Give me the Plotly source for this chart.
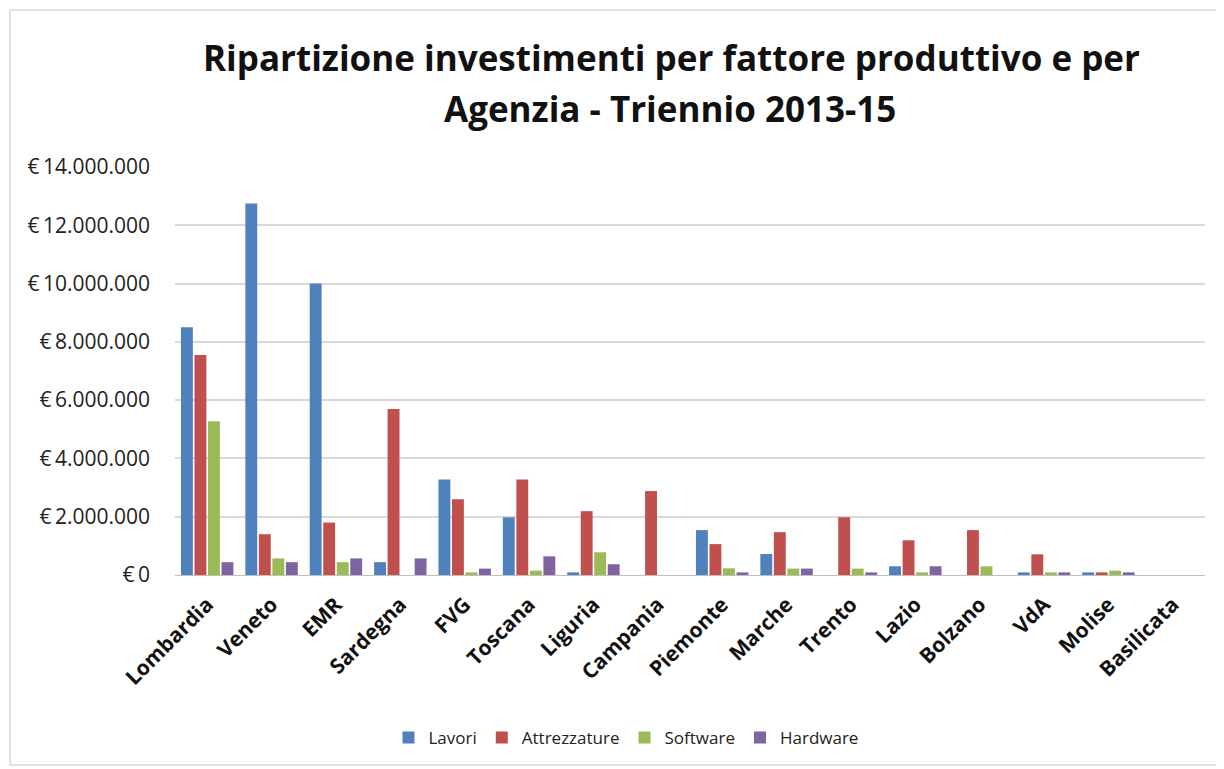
import plotly.graph_objects as go

categories = ["Lombardia", "Veneto", "EMR", "Sardegna", "FVG", "Toscana", "Liguria", "Campania",
              "Piemonte", "Marche", "Trento", "Lazio", "Bolzano", "VdA", "Molise", "Basilicata"]
lavori = [8500000, 12750000, 10000000, 440000, 3280000, 1980000, 90000, 0,
          1540000, 720000, 0, 300000, 0, 90000, 90000, 0]
attrezzature = [7550000, 1400000, 1800000, 5700000, 2600000, 3280000, 2190000, 2880000,
                1060000, 1470000, 1980000, 1190000, 1540000, 710000, 90000, 0]
software = [5280000, 570000, 440000, 0, 90000, 150000, 780000, 0,
            230000, 220000, 220000, 90000, 300000, 90000, 150000, 0]
hardware = [440000, 440000, 570000, 570000, 220000, 640000, 370000, 0,
            90000, 220000, 90000, 300000, 0, 90000, 90000, 0]

series_names = ["Lavori", "Attrezzature", "Software", "Hardware"]
series_values = [lavori, attrezzature, software, hardware]
colors = ["#4F81BD", "#C0504D", "#9BBB59", "#8064A2"]

tick_vals = [0, 2000000, 4000000, 6000000, 8000000, 10000000, 12000000, 14000000]
tick_text = ["€\u20090", "€\u20092.000.000", "€\u20094.000.000", "€\u20096.000.000", "€\u20098.000.000",
             "€\u200910.000.000", "€\u200912.000.000", "€\u200914.000.000"]

title_lines = ["Ripartizione investimenti per fattore produttivo e per", "Agenzia - Triennio 2013-15"]

fig = go.Figure()
for name, vals, col in zip(series_names, series_values, colors):
    fig.add_trace(go.Bar(x=categories, y=vals, name=name,
                         marker=dict(color=col, line=dict(width=0))))

OFF = 8  # page body offset
W, H = 1224 - OFF, 769 - OFF
PL, PR, PT, PB = 175, 1205, 167, 575  # target plot area in page pixels
L, T = PL - OFF, PT - OFF
pw, ph = PR - PL, PB - PT
R, B = W - L - pw, H - T - ph


def px_x(x):
    return (x - PL) / pw


def px_y(y):
    return (PB - y) / ph


annotations = [
    dict(text=title_lines[0], xref="paper", yref="paper", x=px_x(671), y=px_y(57),
         xanchor="center", yanchor="middle", showarrow=False,
         font=dict(family="Open Sans", size=35, color="#111111", weight="bold")),
    dict(text=title_lines[1], xref="paper", yref="paper", x=px_x(670), y=px_y(108),
         xanchor="center", yanchor="middle", showarrow=False,
         font=dict(family="Open Sans", size=35, color="#111111", weight="bold")),
]

fig.update_layout(
    width=W, height=H,
    margin=dict(l=L, r=R, t=T, b=B, autoexpand=False),
    paper_bgcolor="white", plot_bgcolor="white",
    barmode="group", bargap=0.16, bargroupgap=0.12,
    font=dict(family="Open Sans", color="#222222"),
    annotations=annotations,
    showlegend=True,
    legend=dict(orientation="h", x=px_x(626), xanchor="center",
                y=px_y(738), yanchor="middle",
                font=dict(family="Open Sans", size=17, color="#222222"),
                itemwidth=30, traceorder="normal", itemclick=False),
    xaxis=dict(tickangle=-45, showgrid=False, showline=True, linecolor="#BFBFBF",
               tickfont=dict(family="Open Sans", size=21, color="#111111", weight="bold"),
               ticks="", ticklabelstandoff=8),
    yaxis=dict(range=[0, 14000000], tickvals=tick_vals, ticktext=tick_text,
               showgrid=True, gridcolor="#D9D9D9", gridwidth=1.5, zeroline=False,
               showline=False, ticks="", ticklabelstandoff=24,
               tickfont=dict(family="Open Sans", size=21, color="#222222")),
    shapes=[dict(type="rect", xref="paper", yref="paper",
                 x0=px_x(10), x1=px_x(1220),
                 y0=px_y(765), y1=px_y(10),
                 line=dict(color="#D9D9D9", width=1.5), fillcolor="rgba(0,0,0,0)", layer="below")],
)

fig.write_html("out.html")
